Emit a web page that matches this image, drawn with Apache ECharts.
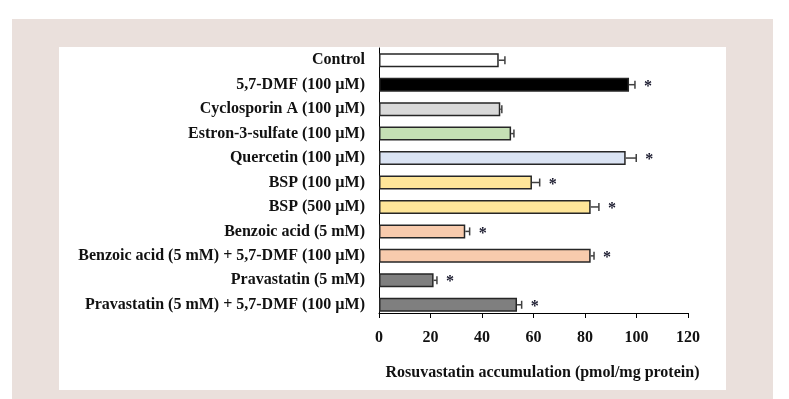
<!DOCTYPE html>
<html>
<head>
<meta charset="utf-8">
<script src="https://cdn.jsdelivr.net/npm/echarts@6/dist/echarts.min.js"></script>
<style>
html, body { margin: 0; padding: 0; background: #fff; }
#chart { width: 789px; height: 399px; }
</style>
</head>
<body>
<div id="chart"></div>
<script>
// data
var categories = [
    "Control",
    "5,7-DMF (100 µM)",
    "Cyclosporin A (100 µM)",
    "Estron-3-sulfate (100 µM)",
    "Quercetin (100 µM)",
    "BSP (100 µM)",
    "BSP (500 µM)",
    "Benzoic acid (5 mM)",
    "Benzoic acid (5 mM) + 5,7-DMF (100 µM)",
    "Pravastatin (5 mM)",
    "Pravastatin (5 mM) + 5,7-DMF (100 µM)"
];
var means = [46.5, 97.1, 47.1, 51.3, 95.8, 59.4, 82.2, 33.5, 82.2, 21.2, 53.6];
var errors = [2.4, 2.3, 0.6, 1.1, 4.1, 3.0, 3.2, 1.7, 1.3, 1.3, 1.8];
var significant = [0, 1, 0, 0, 1, 1, 1, 1, 1, 1, 1];
var barColors = ["#ffffff", "#000000", "#d9d9d9", "#c5e0b4", "#dae3f3",
    "#ffe699", "#ffe699", "#f8cbad", "#f8cbad", "#7f7f7f", "#7f7f7f"];
var xTicks = [0, 20, 40, 60, 80, 100, 120];

var font = "'Liberation Serif', 'DejaVu Serif', serif";

var chart = echarts.init(document.getElementById("chart"));

var barData = means.map(function (v, i) {
    return { value: v, itemStyle: { color: barColors[i] } };
});
var errData = means.map(function (v, i) {
    return [v, errors[i], i, significant[i]];
});

function renderErr(params, api) {
    var v = api.value(0), e = api.value(1), idx = api.value(2), sig = api.value(3);
    var p0 = api.coord([v, idx]);
    var p1 = api.coord([v + e, idx]);
    var style = { stroke: "#404040", lineWidth: 1.5 };
    var kids = [
        { type: "line", shape: { x1: p0[0], y1: p0[1], x2: p1[0], y2: p1[1] }, style: style },
        { type: "line", shape: { x1: p1[0], y1: p1[1] - 4, x2: p1[0], y2: p1[1] + 4 }, style: style }
    ];
    if (sig) {
        kids.push({
            type: "text",
            style: {
                x: p1[0] + 9, y: p1[1] + 2, text: "*",
                font: "bold 16px " + font, fill: "#1a1a2e",
                align: "left", verticalAlign: "middle"
            }
        });
    }
    return { type: "group", children: kids };
}

var option = {
    animation: false,
    backgroundColor: "#ffffff",
    graphic: [
        { type: "rect", z: -10, shape: { x: 12, y: 19, width: 761, height: 390 }, style: { fill: "#eae0dc" } },
        { type: "rect", z: -9, shape: { x: 59, y: 47, width: 667, height: 343 }, style: { fill: "#ffffff" } }
    ],
    grid: { left: 379, right: 101, top: 48, bottom: 82 },
    xAxis: {
        type: "value",
        min: 0, max: 120, interval: 20,
        offset: -4,
        axisLine: { show: true, lineStyle: { color: "#000", width: 1 } },
        axisTick: { show: true, length: 5, lineStyle: { color: "#000" } },
        splitLine: { show: false },
        axisLabel: {
            margin: 17,
            fontFamily: font, fontWeight: "bold", fontSize: 16, color: "#111",
            formatter: function (v) { return xTicks.indexOf(v) >= 0 ? String(v) : ""; }
        },
        name: "Rosuvastatin accumulation (pmol/mg protein)",
        nameLocation: "middle",
        nameGap: 52,
        nameTextStyle: {
            fontFamily: font, fontWeight: "bold", fontSize: 16, color: "#111",
            padding: [0, 0, 0, 18]
        }
    },
    yAxis: {
        type: "category",
        data: categories,
        inverse: true,
        axisLine: { show: true, lineStyle: { color: "#000", width: 1 } },
        axisTick: { show: false },
        axisLabel: {
            margin: 14,
            fontFamily: font, fontWeight: "bold", fontSize: 16, color: "#111"
        }
    },
    series: [
        {
            type: "bar",
            data: barData,
            barWidth: 14,
            itemStyle: { borderColor: "#262626", borderWidth: 1.5 }
        },
        {
            type: "custom",
            data: errData,
            encode: { x: 0, y: 2 },
            renderItem: renderErr,
            z: 5
        }
    ]
};

chart.setOption(option);
</script>
</body>
</html>
